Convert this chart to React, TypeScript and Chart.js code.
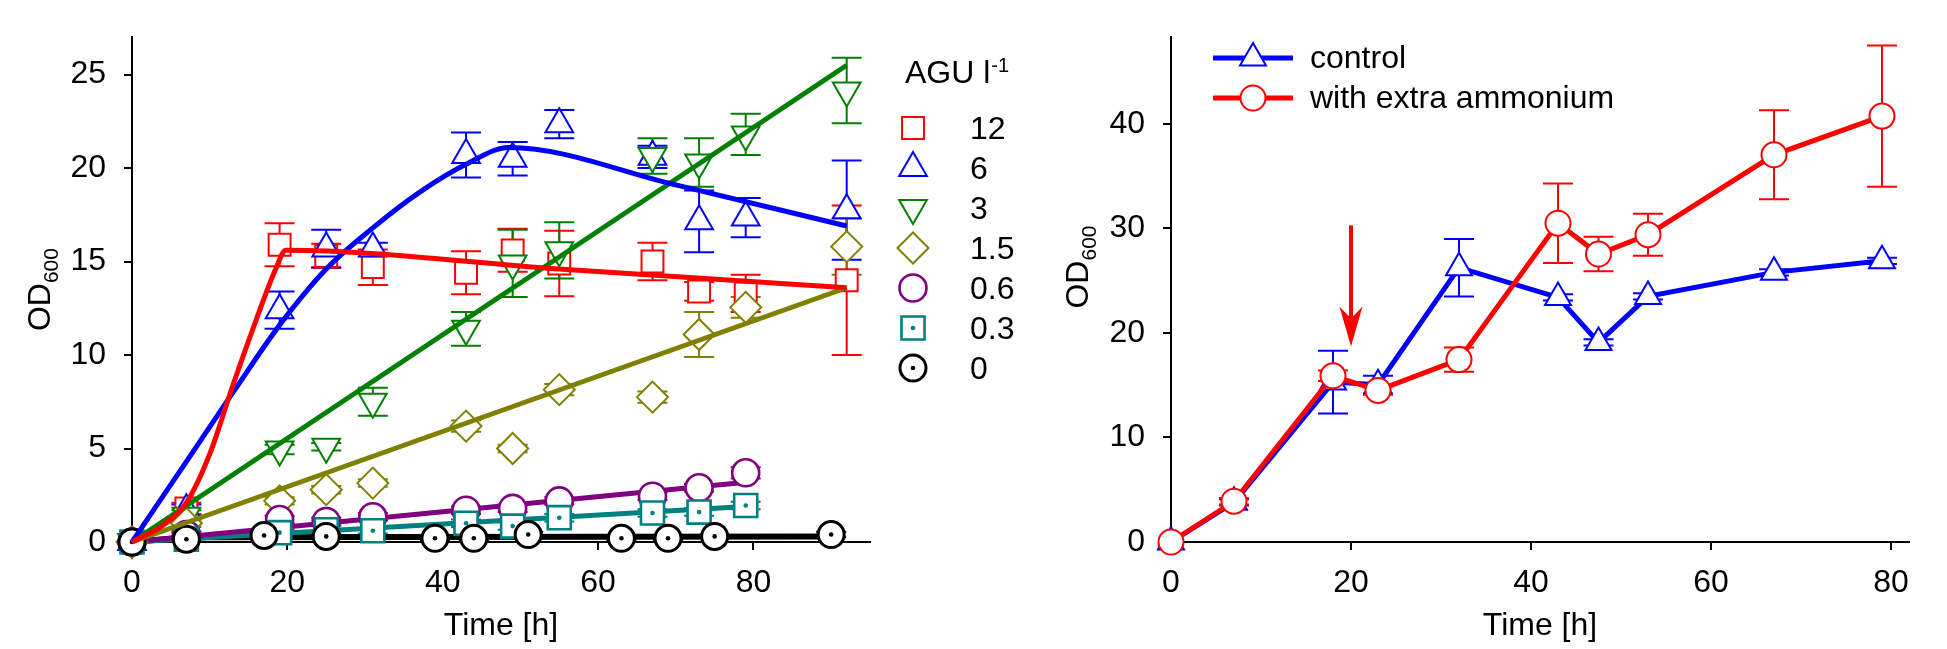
import React, { useEffect, useRef } from 'react';
import { Chart, registerables } from 'chart.js';

Chart.register(...registerables);

const FONT = "'Liberation Sans', Arial, Helvetica, sans-serif";

// ---------- left panel: OD600 at different AGU l-1 ----------
const aguLabels = ['12', '6', '3', '1.5', '0.6', '0.3', '0'];
const aguColors = ['#ff0000', '#0000ff', '#008000', '#808000', '#800080', '#008080', '#000000'];
const aguStyles = ['rect', 'triangle', 'triangle', 'rectRot', 'circle', 'rect', 'circle'];
const aguRotation = [0, 0, 180, 0, 0, 0, 0];
const aguRadius = [15.5, 16, 16, 15.5, 13.5, 16.3, 13];
const aguStroke = [2, 2, 2, 2, 2.6, 2.6, 3];
const aguDot = [false, false, false, false, false, true, true];

const timeHigh = [0, 7, 19, 25, 31, 43, 49, 55, 67, 73, 79, 92];
const timeLow = [0, 7, 19, 25, 31, 43, 49, 55, 67, 73, 79];
const timeNone = [0, 7, 17, 25, 39, 44, 51, 63, 69, 75, 90];

const od12 = [0, 1.8, 15.9, 15.3, 14.7, 14.4, 15.6, 14.9, 15.0, 13.4, 13.3, 14.0];
const sd12 = [0, 0.3, 1.15, 0.65, 0.95, 1.15, 1.15, 1.75, 1.0, 0.5, 1.0, 4.0];
const od6 = [0, 1.7, 12.4, 15.7, 15.7, 20.7, 20.5, 22.35, 20.6, 17.15, 17.35, 17.75];
const sd6 = [0, 0.3, 1.0, 1.0, 0.3, 1.2, 0.9, 0.75, 0.6, 1.65, 1.05, 2.65];
const od3 = [0, 1.4, 4.95, 5.1, 7.5, 11.4, 14.9, 15.6, 20.65, 20.3, 21.8, 24.15];
const sd3 = [0, 0.3, 0.25, 0.2, 0.75, 0.9, 1.8, 1.5, 0.95, 1.3, 1.1, 1.75];
const od1_5 = [0, 1.0, 2.2, 2.8, 3.15, 6.2, 5.0, 8.15, 7.75, 11.1, 12.55, 15.8];
const sd1_5 = [0, 0.2, 0.2, 0.2, 0.2, 0.3, 0.2, 0.3, 0.3, 1.2, 0.55, 1.5];
const od0_6 = [0, 0.4, 1.2, 1.1, 1.35, 1.7, 1.8, 2.2, 2.45, 2.9, 3.7];
const sd0_6 = [0, 0.15, 0.2, 0.2, 0.2, 0.2, 0.2, 0.2, 0.2, 0.2, 0.3];
const od0_3 = [0, 0.15, 0.5, 0.65, 0.6, 1.0, 0.85, 1.3, 1.55, 1.6, 1.95];
const sd0_3 = [0, 0.1, 0.15, 0.2, 0.15, 0.2, 0.2, 0.2, 0.2, 0.2, 0.2];
const od0 = [0, 0.15, 0.35, 0.3, 0.2, 0.2, 0.4, 0.2, 0.2, 0.3, 0.4];
const sd0 = [0, 0.1, 0.1, 0.1, 0.1, 0.1, 0.15, 0.1, 0.1, 0.1, 0.15];

// fitted curves
const fit12Time = [0, 4, 7, 10, 13, 16, 18.5, 19.8, 55, 92];
const fit12Od = [0, 0.9, 2.1, 4.7, 8.4, 11.9, 14.6, 15.6, 14.6, 13.6];
const fit6Time = [0, 7, 13, 19, 25, 31, 37, 43, 48.5, 70, 92];
const fit6Od = [0, 4.3, 8.0, 11.6, 14.6, 16.8, 18.7, 20.2, 21.1, 19.1, 16.9];
const fit3Time = [0, 92];
const fit3Od = [0, 25.5];
const fit1_5Time = [0, 92];
const fit1_5Od = [0, 13.6];
const fit0_6Time = [0, 79];
const fit0_6Od = [0, 3.2];
const fit0_3Time = [0, 79];
const fit0_3Od = [0, 1.9];
const fit0Time = [0, 7, 90];
const fit0Od = [0, 0.25, 0.3];

// ---------- right panel: control vs extra ammonium ----------
const timeAmm = [0, 7, 18, 23, 32, 43, 47.5, 53, 67, 79];
const odControl = [0, 3.8, 15.3, 15.05, 26.25, 23.4, 19.1, 23.5, 25.8, 26.9];
const sdControl = [0, 0.3, 3.0, 0.85, 2.75, 0.3, 0.3, 0.3, 0.3, 0.3];
const odAmmonium = [0, 3.9, 15.9, 14.5, 17.45, 30.5, 27.55, 29.4, 37.05, 40.75];
const sdAmmonium = [0, 0.3, 0.5, 0.4, 1.15, 3.8, 1.65, 2.0, 4.25, 6.75];
const ammLabels = ['control', 'with extra ammonium'];
const ammColors = ['#0000ff', '#ff0000'];
const feedTime = [20];
const feedArrow = [30.3, 18.7]; // arrow from, to (OD axis)

const pts = (t: number[], v: number[]) => t.map((x, i) => ({ x, y: v[i] }));

function drawMarker(ctx: CanvasRenderingContext2D, style: string, x: number, y: number, r: number, rot = 0) {
  ctx.beginPath();
  if (style === 'rect') {
    const s = r * Math.SQRT1_2;
    ctx.rect(x - s, y - s, 2 * s, 2 * s);
  } else if (style === 'triangle') {
    let rad = (rot * Math.PI) / 180;
    ctx.moveTo(x + Math.sin(rad) * r, y - Math.cos(rad) * r);
    rad += (2 * Math.PI) / 3;
    ctx.lineTo(x + Math.sin(rad) * r, y - Math.cos(rad) * r);
    rad += (2 * Math.PI) / 3;
    ctx.lineTo(x + Math.sin(rad) * r, y - Math.cos(rad) * r);
    ctx.closePath();
  } else if (style === 'rectRot') {
    ctx.moveTo(x, y - r);
    ctx.lineTo(x + r, y);
    ctx.lineTo(x, y + r);
    ctx.lineTo(x - r, y);
    ctx.closePath();
  } else {
    ctx.arc(x, y, r, 0, Math.PI * 2);
  }
  ctx.fill();
  ctx.stroke();
}

function drawOdTitle(ctx: CanvasRenderingContext2D, x: number, cy: number) {
  ctx.save();
  ctx.translate(x, cy);
  ctx.rotate(-Math.PI / 2);
  ctx.fillStyle = '#000';
  ctx.textAlign = 'left';
  ctx.textBaseline = 'alphabetic';
  ctx.font = `32px ${FONT}`;
  const w1 = ctx.measureText('OD').width;
  ctx.font = `21px ${FONT}`;
  const w2 = ctx.measureText('600').width;
  const start = -(w1 + w2) / 2;
  ctx.font = `32px ${FONT}`;
  ctx.fillText('OD', start, 0);
  ctx.font = `21px ${FONT}`;
  ctx.fillText('600', start + w1, 8);
  ctx.restore();
}

// error bars with caps, under everything
const errorBars = {
  id: 'errorBars',
  beforeDatasetsDraw(chart: any) {
    const ctx = chart.ctx;
    const ys = chart.scales.y;
    chart.data.datasets.forEach((ds: any, i: number) => {
      if (!ds.errors) return;
      const meta = chart.getDatasetMeta(i);
      ctx.save();
      ctx.strokeStyle = ds.borderColor;
      ctx.lineWidth = 2;
      meta.data.forEach((el: any, j: number) => {
        const e = ds.errors[j];
        if (!e) return;
        const v = ds.data[j].y;
        const top = ys.getPixelForValue(v + e);
        const bot = ys.getPixelForValue(v - e);
        ctx.beginPath();
        ctx.moveTo(el.x, top);
        ctx.lineTo(el.x, bot);
        ctx.moveTo(el.x - 15, top);
        ctx.lineTo(el.x + 15, top);
        ctx.moveTo(el.x - 15, bot);
        ctx.lineTo(el.x + 15, bot);
        ctx.stroke();
      });
      ctx.restore();
    });
  },
  afterDatasetDraw(chart: any, args: any) {
    const ds = chart.data.datasets[args.index];
    if (!ds.dot) return;
    const ctx = chart.ctx;
    ctx.save();
    ctx.fillStyle = ds.borderColor;
    args.meta.data.forEach((el: any) => {
      ctx.beginPath();
      ctx.arc(el.x, el.y, 2.3, 0, Math.PI * 2);
      ctx.fill();
    });
    ctx.restore();
  },
};

const leftDecor = {
  id: 'leftDecor',
  afterDraw(chart: any) {
    const ctx = chart.ctx;
    const a = chart.chartArea;
    ctx.save();
    ctx.fillStyle = '#000';
    ctx.font = `32px ${FONT}`;
    ctx.textAlign = 'center';
    ctx.textBaseline = 'alphabetic';
    ctx.fillText('Time [h]', (a.left + a.right) / 2, 635);
    ctx.restore();
    drawOdTitle(ctx, 50, (a.top + a.bottom) / 2);

    ctx.save();
    ctx.fillStyle = '#000';
    ctx.textAlign = 'left';
    ctx.textBaseline = 'alphabetic';
    ctx.font = `32px ${FONT}`;
    ctx.fillText('AGU l', 905, 83);
    const w = ctx.measureText('AGU l').width;
    ctx.font = `20px ${FONT}`;
    ctx.fillText('-1', 905 + w + 1, 72);
    aguLabels.forEach((lab, i) => {
      const y = 128 + i * 40;
      ctx.fillStyle = '#fff';
      ctx.strokeStyle = aguColors[i];
      ctx.lineWidth = aguStroke[i];
      drawMarker(ctx, aguStyles[i], 913, y, aguRadius[i], aguRotation[i]);
      if (aguDot[i]) {
        ctx.fillStyle = aguColors[i];
        ctx.beginPath();
        ctx.arc(913, y, 2.3, 0, Math.PI * 2);
        ctx.fill();
      }
      ctx.fillStyle = '#000';
      ctx.font = `32px ${FONT}`;
      ctx.fillText(lab, 970, y + 10.5);
    });
    ctx.restore();
  },
};

const rightDecor = {
  id: 'rightDecor',
  afterDraw(chart: any) {
    const ctx = chart.ctx;
    const a = chart.chartArea;
    const xs = chart.scales.x;
    const ys = chart.scales.y;
    ctx.save();
    ctx.fillStyle = '#000';
    ctx.font = `32px ${FONT}`;
    ctx.textAlign = 'center';
    ctx.textBaseline = 'alphabetic';
    ctx.fillText('Time [h]', (a.left + a.right) / 2, 635);
    ctx.restore();
    drawOdTitle(ctx, 48, 267);

    // legend
    ctx.save();
    const styles = ['triangle', 'circle'];
    const radii = [15, 12.5];
    ammLabels.forEach((lab, i) => {
      const y = 58 + i * 40;
      ctx.strokeStyle = ammColors[i];
      ctx.lineWidth = 5;
      ctx.beginPath();
      ctx.moveTo(173, y);
      ctx.lineTo(253, y);
      ctx.stroke();
      ctx.fillStyle = '#fff';
      ctx.lineWidth = 2;
      drawMarker(ctx, styles[i], 213, y, radii[i]);
      ctx.fillStyle = '#000';
      ctx.font = `32px ${FONT}`;
      ctx.textAlign = 'left';
      ctx.textBaseline = 'alphabetic';
      ctx.fillText(lab, 270, y + 10);
    });

    // feeding arrow
    const ax = xs.getPixelForValue(feedTime[0]);
    const top = ys.getPixelForValue(feedArrow[0]);
    const tip = ys.getPixelForValue(feedArrow[1]);
    ctx.strokeStyle = '#ff0000';
    ctx.fillStyle = '#ff0000';
    ctx.lineWidth = 4;
    ctx.beginPath();
    ctx.moveTo(ax, top);
    ctx.lineTo(ax, tip - 20);
    ctx.stroke();
    ctx.beginPath();
    ctx.moveTo(ax, tip);
    ctx.lineTo(ax - 11.5, tip - 40);
    ctx.lineTo(ax, tip - 28);
    ctx.lineTo(ax + 11.5, tip - 40);
    ctx.closePath();
    ctx.fill();
    ctx.restore();
  },
};

function axes(xMax: number, yMax: number, yStep: number, yWidth: number) {
  const grid = { drawOnChartArea: false, drawTicks: true, tickLength: 8, color: '#000', lineWidth: 2 };
  const border = { display: true, color: '#000', width: 2 };
  return {
    x: {
      type: 'linear' as const,
      min: 0,
      max: xMax,
      grid,
      border,
      ticks: { stepSize: 20, includeBounds: false, color: '#000', padding: 14, font: { family: FONT, size: 32 } },
      afterFit: (s: any) => {
        s.height = 107;
      },
    },
    y: {
      type: 'linear' as const,
      min: 0,
      max: yMax,
      grid,
      border,
      ticks: { stepSize: yStep, includeBounds: false, color: '#000', padding: 18, font: { family: FONT, size: 32 } },
      afterFit: (s: any) => {
        s.width = yWidth;
      },
    },
  };
}

export default function App() {
  const leftRef = useRef<HTMLCanvasElement>(null);
  const rightRef = useRef<HTMLCanvasElement>(null);

  useEffect(() => {
    const times = [timeHigh, timeHigh, timeHigh, timeHigh, timeLow, timeLow, timeNone];
    const ods = [od12, od6, od3, od1_5, od0_6, od0_3, od0];
    const sds = [sd12, sd6, sd3, sd1_5, sd0_6, sd0_3, sd0];
    const fitT = [fit12Time, fit6Time, fit3Time, fit1_5Time, fit0_6Time, fit0_3Time, fit0Time];
    const fitV = [fit12Od, fit6Od, fit3Od, fit1_5Od, fit0_6Od, fit0_3Od, fit0Od];

    const leftSets: any[] = [];
    aguLabels.forEach((lab, i) => {
      leftSets.push({
        label: lab + ' fit',
        data: pts(fitT[i], fitV[i]),
        borderColor: aguColors[i],
        borderWidth: i === 6 ? 6 : 5,
        pointRadius: 0,
        fill: false,
        tension: 0,
        cubicInterpolationMode: i < 2 ? 'monotone' : 'default',
        clip: false,
        order: i < 4 ? 0 : 20,
      });
      leftSets.push({
        label: lab,
        data: pts(times[i], ods[i]),
        showLine: false,
        borderColor: aguColors[i],
        backgroundColor: '#fff',
        pointStyle: aguStyles[i],
        rotation: aguRotation[i],
        pointRadius: aguRadius[i],
        pointBorderWidth: aguStroke[i],
        pointBackgroundColor: '#fff',
        pointBorderColor: aguColors[i],
        errors: sds[i],
        dot: aguDot[i],
        clip: false,
        order: 10 + (6 - i),
      });
    });

    const left = new Chart(leftRef.current!, {
      type: 'line',
      data: { datasets: leftSets },
      options: {
        responsive: false,
        animation: false,
        events: [],
        layout: { padding: { left: 0, right: 170, top: 10, bottom: 0 } },
        plugins: { legend: { display: false }, tooltip: { enabled: false } },
        scales: axes(95, 27, 5, 132) as any,
      },
      plugins: [errorBars, leftDecor],
    });

    const right = new Chart(rightRef.current!, {
      type: 'line',
      data: {
        datasets: [
          {
            label: ammLabels[0],
            data: pts(timeAmm, odControl),
            borderColor: ammColors[0],
            borderWidth: 5,
            tension: 0,
            pointStyle: 'triangle',
            pointRadius: 15,
            pointBorderWidth: 2,
            pointBackgroundColor: '#fff',
            pointBorderColor: ammColors[0],
            clip: false,
            order: 1,
            errors: sdControl,
          } as any,
          {
            label: ammLabels[1],
            data: pts(timeAmm, odAmmonium),
            borderColor: ammColors[1],
            borderWidth: 5,
            tension: 0,
            pointStyle: 'circle',
            pointRadius: 12.5,
            pointBorderWidth: 2,
            pointBackgroundColor: '#fff',
            pointBorderColor: ammColors[1],
            clip: false,
            order: 0,
            errors: sdAmmonium,
          } as any,
        ],
      },
      options: {
        responsive: false,
        animation: false,
        events: [],
        layout: { padding: { left: 0, right: 38, top: 10, bottom: 0 } },
        plugins: { legend: { display: false }, tooltip: { enabled: false } },
        scales: axes(82, 48.3, 10, 131) as any,
      },
      plugins: [errorBars, rightDecor],
    });

    return () => {
      left.destroy();
      right.destroy();
    };
  }, []);

  return (
    <div style={{ position: 'absolute', left: 0, top: 0, width: 1947, height: 649, background: '#fff' }}>
      <canvas ref={leftRef} width={1040} height={649} style={{ position: 'absolute', left: 0, top: 0 }} />
      <canvas ref={rightRef} width={907} height={649} style={{ position: 'absolute', left: 1040, top: 0 }} />
    </div>
  );
}
